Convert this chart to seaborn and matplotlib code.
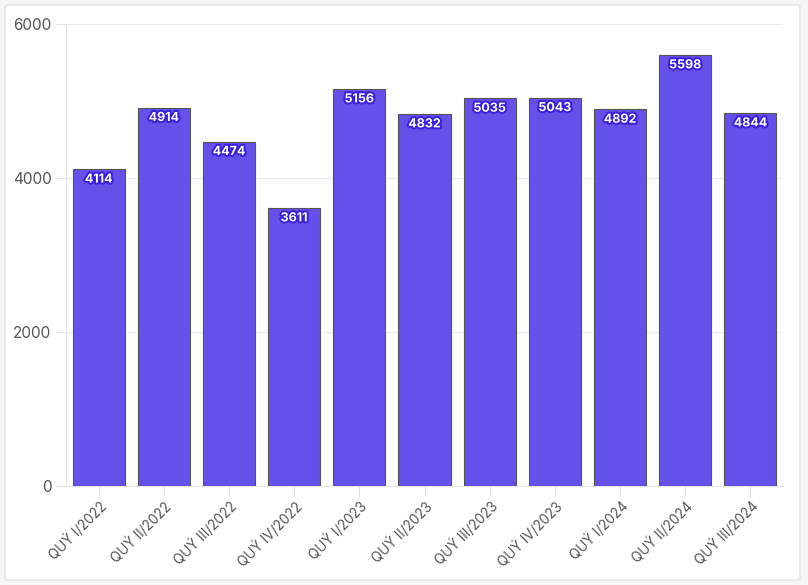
import matplotlib
matplotlib.use("Agg")
import matplotlib.pyplot as plt
import matplotlib.patheffects as pe
from matplotlib.patches import FancyBboxPatch
import seaborn as sns
import pandas as pd

# dữ liệu theo quý
quarters = ["QUÝ I/2022", "QUÝ II/2022", "QUÝ III/2022", "QUÝ IV/2022",
            "QUÝ I/2023", "QUÝ II/2023", "QUÝ III/2023", "QUÝ IV/2023",
            "QUÝ I/2024", "QUÝ II/2024", "QUÝ III/2024"]
values = [4114, 4914, 4474, 3611, 5156, 4832, 5035, 5043, 4892, 5598, 4844]
y_ticks = [0, 2000, 4000, 6000]

df = pd.DataFrame({"quarter": quarters, "value": values})

sns.set_theme(style="white")
plt.rcParams['font.family'] = ['Inter', 'DejaVu Sans']

fig = plt.figure(figsize=(8.08, 5.85), dpi=100)
fig.patch.set_facecolor("#f6f6f6")

# khung trắng
frame = FancyBboxPatch((5 / 808, 5 / 585), 795 / 808, 575 / 585,
                       boxstyle="round,pad=0,rounding_size=0.004",
                       transform=fig.transFigure, facecolor="white",
                       edgecolor="#e4e4e4", linewidth=1, zorder=-5)
fig.patches.append(frame)

ax = fig.add_axes([66 / 808, 99 / 585, 717 / 808, 462 / 585])
ax.set_facecolor("white")
ax.set_zorder(2)

sns.barplot(data=df, x="quarter", y="value", ax=ax, color="#6451ea",
            saturation=1, width=0.8, edgecolor="#555555", linewidth=0.8,
            zorder=3)

ax.set_ylim(0, 6000)
ax.set_yticks(y_ticks)
ax.set_xlim(-0.5, len(quarters) - 0.5)
ax.set_xlabel("")
ax.set_ylabel("")

ax.set_axisbelow(True)
ax.yaxis.grid(True, color="#ececec", linewidth=0.8)
for s in ["top", "right"]:
    ax.spines[s].set_visible(False)
for s in ["left", "bottom"]:
    ax.spines[s].set_color("#e6e6e6")
    ax.spines[s].set_linewidth(0.8)

ax.tick_params(axis="both", colors="#e0e0e0", length=7, width=0.8,
               labelcolor="#555555", labelsize=11, left=True, bottom=True)
ax.tick_params(axis="x", labelsize=9.8, pad=2)
plt.setp(ax.get_xticklabels(), rotation=45, ha="right", rotation_mode="anchor")

# nhãn giá trị trên cột
for i, v in enumerate(values):
    ax.annotate(str(v), (i, v), xytext=(0, -7.5), textcoords="offset points",
                ha="center", va="center", color="white", fontsize=9,
                fontweight="bold", zorder=5,
                path_effects=[pe.withStroke(linewidth=2.8, foreground="#3a1fdc")])

fig.savefig("out.png", dpi=100, facecolor=fig.get_facecolor())
